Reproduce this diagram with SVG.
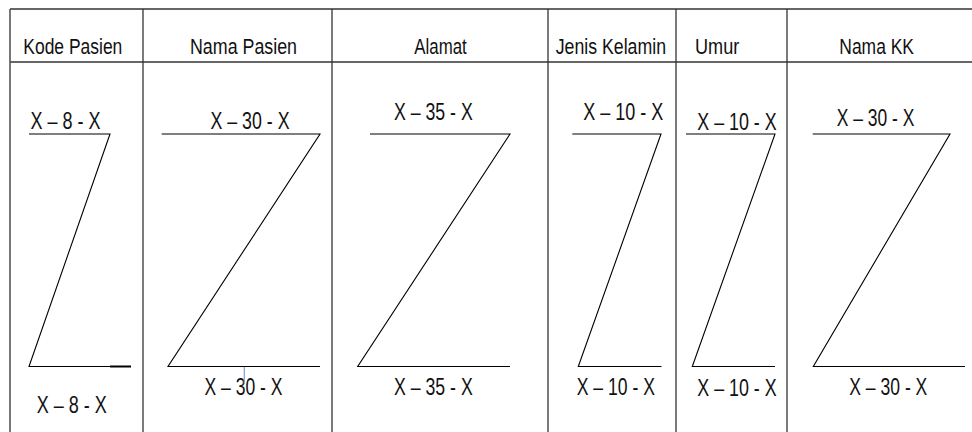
<svg xmlns="http://www.w3.org/2000/svg" width="972" height="432" viewBox="0 0 972 432">
<style>
.grid{stroke:#333;stroke-width:1.3;fill:none}
.z{stroke:#000;stroke-width:1.1;fill:none}
.h{font-family:"Liberation Sans Narrow","Liberation Sans",Arial,sans-serif;font-size:22px;fill:#111}
.l{font-family:"Liberation Sans Narrow","Liberation Sans",Arial,sans-serif;font-size:24px;fill:#111}
</style>
<rect width="972" height="432" fill="#fff"/>
<g id="grid">
<line class="grid" x1="10" y1="9" x2="972" y2="9"/>
<line class="grid" x1="10" y1="62" x2="972" y2="62"/>
<line class="grid" x1="10" y1="9" x2="10" y2="432" style="stroke:#555;stroke-width:1.6"/>
<line class="grid" x1="143" y1="9" x2="143" y2="432"/>
<line class="grid" x1="332" y1="9" x2="332" y2="432"/>
<line class="grid" x1="548" y1="9" x2="548" y2="432"/>
<line class="grid" x1="676" y1="9" x2="676" y2="432"/>
<line class="grid" x1="787" y1="9" x2="787" y2="432"/>
</g>
<g id="col-kode-pasien">
<text class="h" x="23.3" y="54" textLength="99" lengthAdjust="spacingAndGlyphs">Kode Pasien</text>
<text class="l" x="30.5" y="129" textLength="70" lengthAdjust="spacingAndGlyphs">X – 8 - X</text>
<polyline class="z" points="29,134 110,134 29,366.5 131,366.5"/>
<line x1="110" y1="366.5" x2="131" y2="366.5" stroke="#000" stroke-width="2"/>
<text class="l" x="36.7" y="413" textLength="70" lengthAdjust="spacingAndGlyphs">X – 8 - X</text>
</g>
<g id="col-nama-pasien">
<text class="h" x="190" y="54" textLength="107" lengthAdjust="spacingAndGlyphs">Nama Pasien</text>
<text class="l" x="210.5" y="129" textLength="79" lengthAdjust="spacingAndGlyphs">X – 30 - X</text>
<polyline class="z" points="161.7,134 320,134 168,366.5 320,366.5"/>
<text class="l" x="204.5" y="395" textLength="78" lengthAdjust="spacingAndGlyphs">X – 30 - X</text>
<line x1="244.3" y1="367" x2="244.3" y2="384" stroke="#7a9fd6" stroke-width="1.2"/>
</g>
<g id="col-alamat">
<text class="h" x="414.3" y="54" textLength="52.4" lengthAdjust="spacingAndGlyphs">Alamat</text>
<text class="l" x="394" y="120" textLength="78.7" lengthAdjust="spacingAndGlyphs">X – 35 - X</text>
<polyline class="z" points="370,134 510,134 357.7,366.5 510,366.5"/>
<text class="l" x="394" y="395" textLength="78.7" lengthAdjust="spacingAndGlyphs">X – 35 - X</text>
</g>
<g id="col-jenis-kelamin">
<text class="h" x="555.7" y="54" textLength="110.3" lengthAdjust="spacingAndGlyphs">Jenis Kelamin</text>
<text class="l" x="583.3" y="120" textLength="80" lengthAdjust="spacingAndGlyphs">X – 10 - X</text>
<polyline class="z" points="572.3,134 661,134 578.3,366.5 661.5,366.5"/>
<text class="l" x="576.7" y="395" textLength="78.3" lengthAdjust="spacingAndGlyphs">X – 10 - X</text>
</g>
<g id="col-umur">
<text class="h" x="695" y="54" textLength="44.3" lengthAdjust="spacingAndGlyphs">Umur</text>
<text class="l" x="697.3" y="130" textLength="79.4" lengthAdjust="spacingAndGlyphs">X – 10 - X</text>
<polyline class="z" points="686,134 775,134 692.3,366.5 775,366.5"/>
<text class="l" x="697.3" y="396" textLength="79.4" lengthAdjust="spacingAndGlyphs">X – 10 - X</text>
</g>
<g id="col-nama-kk">
<text class="h" x="839.3" y="54" textLength="74.7" lengthAdjust="spacingAndGlyphs">Nama KK</text>
<text class="l" x="836.7" y="126" textLength="77.6" lengthAdjust="spacingAndGlyphs">X – 30 - X</text>
<polyline class="z" points="812.7,134 950,134 813.3,366.5 965,366.5"/>
<text class="l" x="849.3" y="395" textLength="78" lengthAdjust="spacingAndGlyphs">X – 30 - X</text>
</g>
</svg>
